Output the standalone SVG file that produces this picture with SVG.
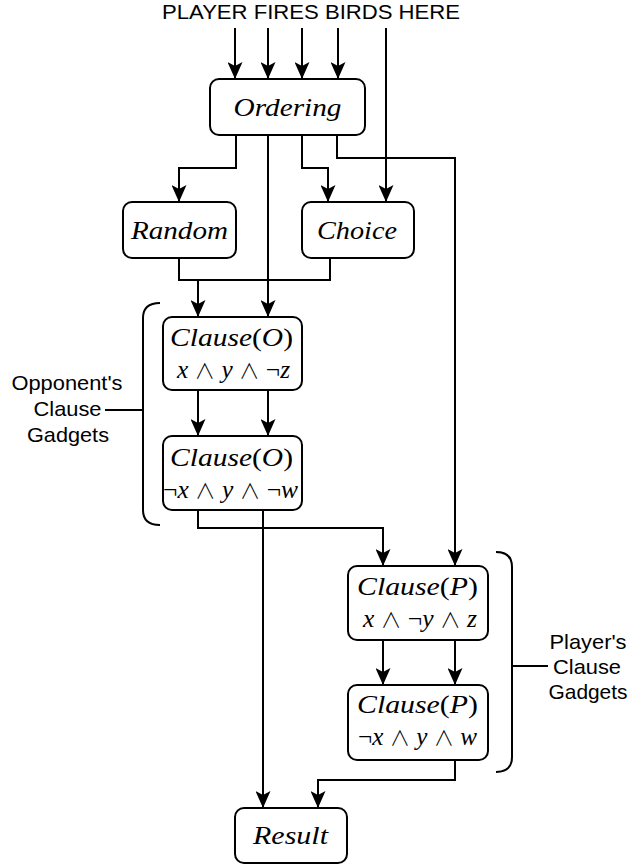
<svg xmlns="http://www.w3.org/2000/svg" width="631" height="867" viewBox="0 0 631 867">
<style>
.box{fill:#fff;stroke:#000;stroke-width:2}
.ln{fill:none;stroke:#000;stroke-width:2}
.m{font-family:"Liberation Serif","DejaVu Serif",serif;font-style:italic;font-size:26px;fill:#000;text-anchor:middle}
.u{font-style:normal;font-family:"Liberation Serif",serif}
.w{font-style:normal;font-family:"Noto Sans CJK JP","DejaVu Sans",sans-serif;font-weight:300;font-size:21px}
.s{font-family:"Liberation Sans",Arial,sans-serif;font-size:21px;fill:#000;text-anchor:middle}
</style>
<defs>
<marker id="arr" viewBox="0 0 17 15" refX="17" refY="7.5" markerWidth="17" markerHeight="15" orient="auto" markerUnits="userSpaceOnUse">
<path d="M0,0 L17,7.5 L0,15 L4,7.5 z" fill="#000"/>
</marker>
</defs>
<rect width="631" height="867" fill="#fff"/>
<text class="s" x="311" y="19" textLength="298" lengthAdjust="spacingAndGlyphs">PLAYER FIRES BIRDS HERE</text>
<g id="connectors">
<path class="ln" d="M235,28 V79" marker-end="url(#arr)"/>
<path class="ln" d="M268,28 V79" marker-end="url(#arr)"/>
<path class="ln" d="M302,28 V79" marker-end="url(#arr)"/>
<path class="ln" d="M338,28 V79" marker-end="url(#arr)"/>
<path class="ln" d="M386,28 V202" marker-end="url(#arr)"/>
<path class="ln" d="M236,135 V168 H179 V202" marker-end="url(#arr)"/>
<path class="ln" d="M268,135 V317" marker-end="url(#arr)"/>
<path class="ln" d="M302,135 V168 H328 V202" marker-end="url(#arr)"/>
<path class="ln" d="M337,135 V158 H455 V566" marker-end="url(#arr)"/>
<path class="ln" d="M179,258 V280 H330 V258"/>
<path class="ln" d="M198,280 V317" marker-end="url(#arr)"/>
<path class="ln" d="M198,390 V436" marker-end="url(#arr)"/>
<path class="ln" d="M268,390 V436" marker-end="url(#arr)"/>
<path class="ln" d="M198,510 V528 H383 V566" marker-end="url(#arr)"/>
<path class="ln" d="M263,510 V808" marker-end="url(#arr)"/>
<path class="ln" d="M383,640 V685" marker-end="url(#arr)"/>
<path class="ln" d="M455,640 V685" marker-end="url(#arr)"/>
<path class="ln" d="M455,760 V780 H318 V808" marker-end="url(#arr)"/>
</g>
<g id="ordering">
<rect class="box" x="210" y="79" width="155" height="56" rx="9"/>
<text class="m" x="287.5" y="116" textLength="108" lengthAdjust="spacingAndGlyphs">Ordering</text>
</g>
<g id="random">
<rect class="box" x="123" y="202" width="113" height="56" rx="9"/>
<text class="m" x="179.5" y="239" textLength="97" lengthAdjust="spacingAndGlyphs">Random</text>
</g>
<g id="choice">
<rect class="box" x="302" y="202" width="112" height="56" rx="9"/>
<text class="m" x="357" y="239" textLength="80" lengthAdjust="spacingAndGlyphs">Choice</text>
</g>
<g id="clauseO1">
<rect class="box" x="163" y="317" width="139" height="73" rx="9"/>
<text class="m" x="231.5" y="346" textLength="123" lengthAdjust="spacingAndGlyphs">Clause<tspan class="u">(</tspan>O<tspan class="u">)</tspan></text>
<text class="m" x="233.5" y="378" textLength="113" lengthAdjust="spacingAndGlyphs">x <tspan class="w">∧</tspan> y <tspan class="w">∧</tspan> <tspan class="u">¬</tspan>z</text>
</g>
<g id="clauseO2">
<rect class="box" x="163" y="436" width="139" height="74" rx="9"/>
<text class="m" x="231.5" y="466" textLength="123" lengthAdjust="spacingAndGlyphs">Clause<tspan class="u">(</tspan>O<tspan class="u">)</tspan></text>
<text class="m" x="230.5" y="498" textLength="135" lengthAdjust="spacingAndGlyphs"><tspan class="u">¬</tspan>x <tspan class="w">∧</tspan> y <tspan class="w">∧</tspan> <tspan class="u">¬</tspan>w</text>
</g>
<g id="clauseP1">
<rect class="box" x="348" y="566" width="140" height="74" rx="9"/>
<text class="m" x="417.5" y="595" textLength="121" lengthAdjust="spacingAndGlyphs">Clause<tspan class="u">(</tspan>P<tspan class="u">)</tspan></text>
<text class="m" x="420" y="627" textLength="114" lengthAdjust="spacingAndGlyphs">x <tspan class="w">∧</tspan> <tspan class="u">¬</tspan>y <tspan class="w">∧</tspan> z</text>
</g>
<g id="clauseP2">
<rect class="box" x="348" y="685" width="140" height="75" rx="9"/>
<text class="m" x="417.5" y="713" textLength="121" lengthAdjust="spacingAndGlyphs">Clause<tspan class="u">(</tspan>P<tspan class="u">)</tspan></text>
<text class="m" x="417.5" y="745" textLength="119" lengthAdjust="spacingAndGlyphs"><tspan class="u">¬</tspan>x <tspan class="w">∧</tspan> y <tspan class="w">∧</tspan> w</text>
</g>
<g id="result">
<rect class="box" x="235" y="808" width="112" height="55" rx="9"/>
<text class="m" x="290.5" y="844" textLength="75" lengthAdjust="spacingAndGlyphs">Result</text>
</g>
<g id="opponentBrace">
<path class="ln" d="M160,303 Q143,303 143,318 V510 Q143,525 160,525 M143,410 H105"/>
<text class="s" x="67" y="390" textLength="111" lengthAdjust="spacingAndGlyphs">Opponent's</text>
<text class="s" x="67.5" y="416" textLength="68" lengthAdjust="spacingAndGlyphs">Clause</text>
<text class="s" x="68" y="442" textLength="82" lengthAdjust="spacingAndGlyphs">Gadgets</text>
</g>
<g id="playerBrace">
<path class="ln" d="M496,552 Q512,552 512,567 V757 Q512,772 496,772 M512,666 H548"/>
<text class="s" x="588" y="649" textLength="77" lengthAdjust="spacingAndGlyphs">Player's</text>
<text class="s" x="587" y="674" textLength="68" lengthAdjust="spacingAndGlyphs">Clause</text>
<text class="s" x="588" y="699" textLength="79" lengthAdjust="spacingAndGlyphs">Gadgets</text>
</g>
</svg>
